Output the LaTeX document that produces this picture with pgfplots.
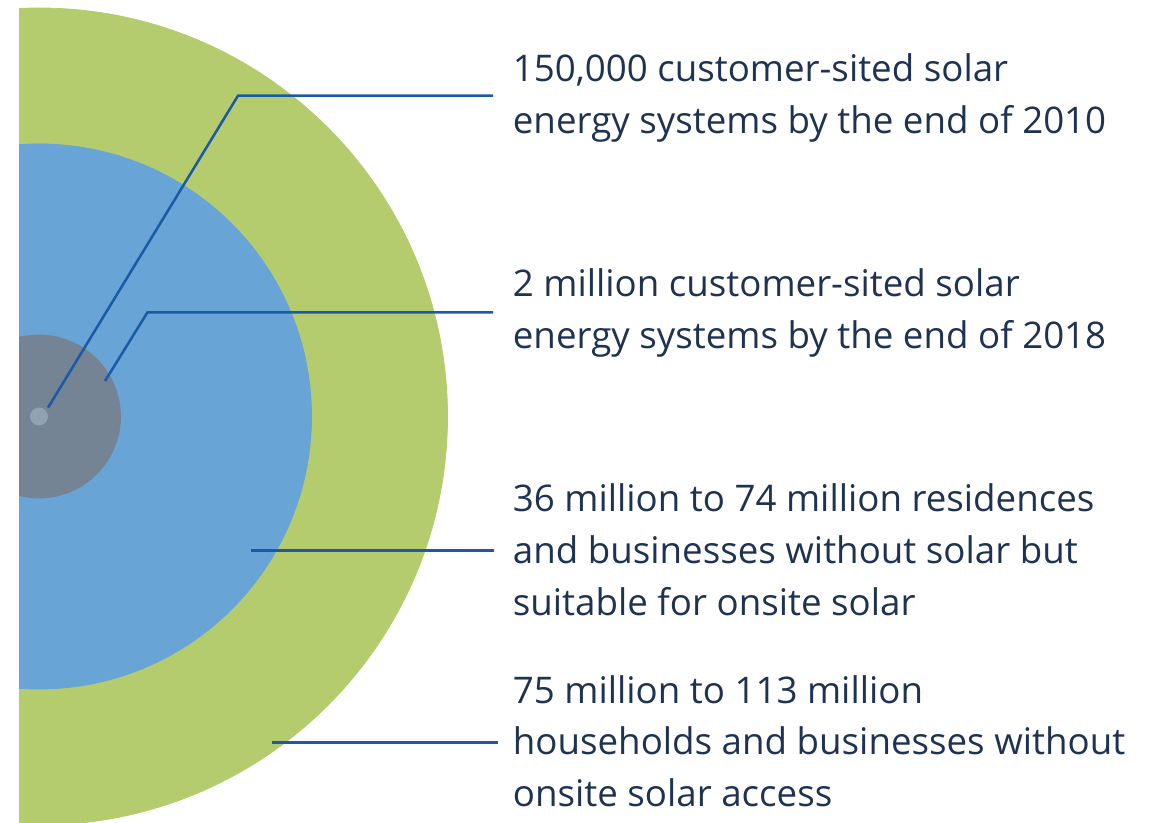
\documentclass[border=0pt]{standalone}
\usepackage{pgfplots}
\pgfplotsset{compat=1.18}
\usepackage{fontspec}
\setmainfont{Open Sans}
\definecolor{ringGreen}{HTML}{B4CB6E}
\definecolor{ringBlue}{HTML}{68A5D6}
\definecolor{ringGray}{HTML}{758494}
\definecolor{dotGray}{HTML}{90A2B3}
\definecolor{leadBlue}{HTML}{1A5AA6}
\definecolor{textNavy}{HTML}{1E3352}

\begin{document}
\begin{tikzpicture}[
  txt/.style={anchor=base west, inner sep=0pt, align=left, text=textNavy,
    font=\fontsize{18.35}{25.8}\selectfont},
  lead/.style={draw=leadBlue, line width=1.25pt},
  ring/.style={only marks, mark=*, color=#1, mark options={draw=#1, fill=#1}},
]
% page = 1153 x 823 px at 0.5pt per px; circles cut at x = 19
\useasboundingbox (-9.5pt,0) rectangle (567pt,411.5pt);
\begin{axis}[
  x=0.5pt, y=0.5pt,
  xmin=19, xmax=1153,
  ymin=0, ymax=823,
  y dir=reverse,
  hide axis,
  clip=true,
  clip marker paths=true,
  clip bounding box=upper bound,
]
% radius in px -> mark size = radius/2 pt
% outer: households and businesses without onsite solar access (r = 408.5)
\addplot[ring=ringGreen, mark size=204.25pt] coordinates {(39,416.5)};
% suitable for onsite solar (r = 272.5)
\addplot[ring=ringBlue, mark size=136.25pt] coordinates {(39,416.5)};
% 2 million by 2018 (r = 81.5)
\addplot[ring=ringGray, mark size=40.75pt] coordinates {(39,416.5)};
% 150,000 by 2010 (r = 8.5)
\addplot[ring=dotGray, mark size=4.25pt] coordinates {(39,416.5)};

% leader lines
\addplot[lead, mark=none] coordinates {(48,407.7) (238,95.7) (493,95.7)};
\addplot[lead, mark=none] coordinates {(105,381) (147.5,312.3) (493,312.3)};
\addplot[lead, mark=none] coordinates {(251,550.3) (494.3,550.3)};
\addplot[lead, mark=none] coordinates {(272,742.3) (497.7,742.3)};

% anchors sit on the baseline of each block's last line
\node[txt] at (axis cs:512.5,133.6) {150,000 customer-sited solar\\energy systems by the end of 2010};
\node[txt] at (axis cs:512.5,348.6) {2 million customer-sited solar\\energy systems by the end of 2018};
\node[txt] at (axis cs:512.5,615.2) {36 million to 74 million residences\\and businesses without solar but\\suitable for onsite solar};
\node[txt] at (axis cs:512.5,806.5) {75 million to 113 million\\households and businesses without\\onsite solar access};
\end{axis}
\end{tikzpicture}
\end{document}
